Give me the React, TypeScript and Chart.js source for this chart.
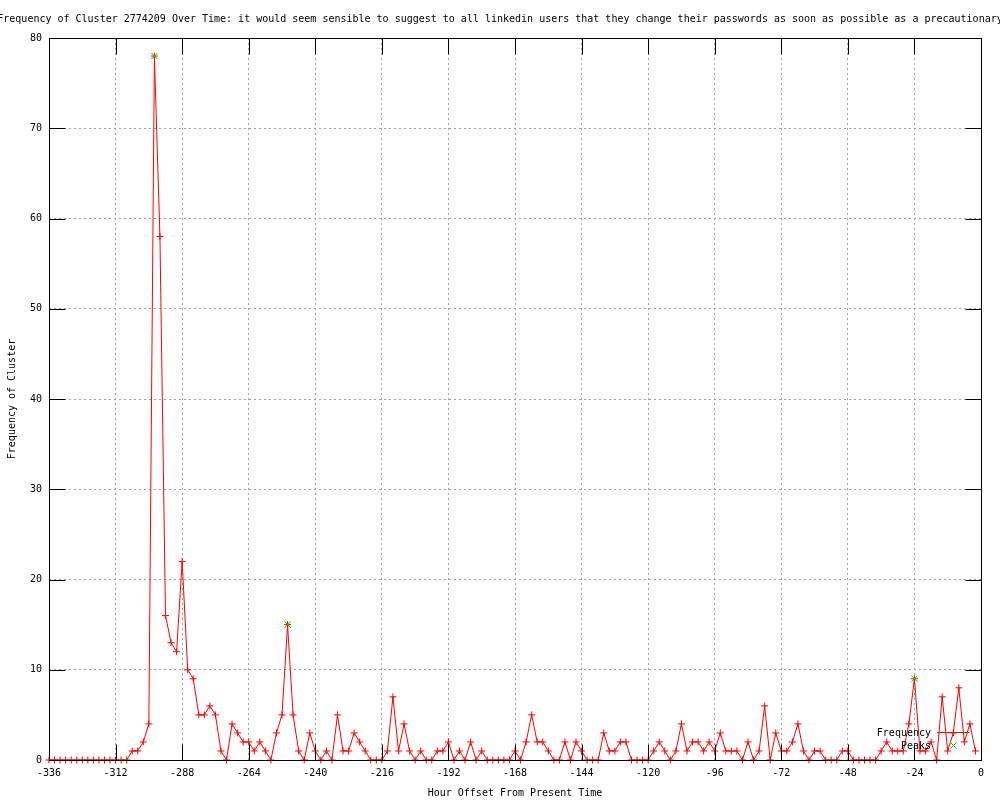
import React, { useEffect, useRef } from "react";
import { Chart, registerables } from "chart.js";

Chart.register(...registerables);

const TITLE =
  "Frequency of Cluster 2774209 Over Time: it would seem sensible to suggest to all linkedin users that they change their passwords as soon as possible as a precautionary";
const X_TITLE = "Hour Offset From Present Time";
const Y_TITLE = "Frequency of Cluster";
const LEGEND_LABELS = ["Frequency", "Peaks"];

const hours = [
  -336, -334, -332, -330, -328, -326, -324, -322, -320, -318, -316, -314, -312, -310, -308,
  -306, -304, -302, -300, -298, -296, -294, -292, -290,
  -288, -286, -284, -282, -280, -278, -276, -274, -272,
  -270, -268, -266, -264, -262, -260, -258, -256,
  -254, -252, -250, -248, -246, -244, -242, -240,
  -238, -236, -234, -232, -230, -228, -226, -224,
  -222, -220, -218, -216, -214, -212, -210, -208,
  -206, -204, -202, -200, -198, -196, -194, -192,
  -190, -188, -186, -184, -182, -180, -178, -176,
  -174, -172, -170, -168, -166, -164, -162, -160,
  -158, -156, -154, -152, -150, -148, -146, -144,
  -142, -140, -138, -136, -134, -132, -130, -128,
  -126, -124, -122, -120, -118, -116, -114, -112,
  -110, -108, -106, -104, -102, -100, -98, -96,
  -94, -92, -90, -88, -86, -84, -82, -80,
  -78, -76, -74, -72, -70, -68, -66, -64,
  -62, -60, -58, -56, -54, -52, -50, -48,
  -46, -44, -42, -40, -38, -36, -34, -32,
  -30, -28, -26, -24, -22, -20, -18, -16,
  -14, -12, -10, -8, -6, -4, -2,
];

const frequency = [
  0, 0, 0, 0, 0, 0, 0, 0, 0, 0, 0, 0, 0, 0, 0,
  1, 1, 2, 4, 78, 58, 16, 13, 12,
  22, 10, 9, 5, 5, 6, 5, 1, 0,
  4, 3, 2, 2, 1, 2, 1, 0,
  3, 5, 15, 5, 1, 0, 3, 1,
  0, 1, 0, 5, 1, 1, 3, 2,
  1, 0, 0, 0, 1, 7, 1, 4,
  1, 0, 1, 0, 0, 1, 1, 2,
  0, 1, 0, 2, 0, 1, 0, 0,
  0, 0, 0, 1, 0, 2, 5, 2,
  2, 1, 0, 0, 2, 0, 2, 1,
  0, 0, 0, 3, 1, 1, 2, 2,
  0, 0, 0, 0, 1, 2, 1, 0,
  1, 4, 1, 2, 2, 1, 2, 1,
  3, 1, 1, 1, 0, 2, 0, 1,
  6, 0, 3, 1, 1, 2, 4, 1,
  0, 1, 1, 0, 0, 0, 1, 1,
  0, 0, 0, 0, 0, 1, 2, 1,
  1, 1, 4, 9, 1, 1, 2, 0,
  7, 1, 3, 8, 2, 4, 1,
];

const peakHours = [-298, -250, -24];
const peakValues = [78, 15, 9];

const xTickValues = [-336, -312, -288, -264, -240, -216, -192, -168, -144, -120, -96, -72, -48, -24, 0];
const yTickValues = [0, 10, 20, 30, 40, 50, 60, 70, 80];

const FONT_FAMILY = '"DejaVu Sans Mono", "Liberation Mono", monospace';
const RED = "#ff0000";
const GREEN = "#00c000";

function drawCross(ctx: CanvasRenderingContext2D, x: number, y: number, r: number) {
  ctx.beginPath();
  ctx.moveTo(x - r, y);
  ctx.lineTo(x + r, y);
  ctx.moveTo(x, y - r);
  ctx.lineTo(x, y + r);
  ctx.stroke();
}

function drawX(ctx: CanvasRenderingContext2D, x: number, y: number, r: number) {
  ctx.beginPath();
  ctx.moveTo(x - r, y - r);
  ctx.lineTo(x + r, y + r);
  ctx.moveTo(x - r, y + r);
  ctx.lineTo(x + r, y - r);
  ctx.stroke();
}

const framePlugin = {
  id: "gnuplotFrame",
  afterDatasetsDraw(chart: any) {
    const { ctx, chartArea, scales } = chart;
    const xs = scales.x;
    const ys = scales.y;
    const L = Math.round(chartArea.left) + 0.5;
    const R = Math.round(chartArea.right) + 0.5;
    const T = Math.round(chartArea.top) + 0.5;
    const B = Math.round(chartArea.bottom) + 0.5;
    const TICK = 16;
    ctx.save();
    ctx.strokeStyle = "#000";
    ctx.lineWidth = 1;
    ctx.setLineDash([]);
    ctx.beginPath();
    for (const v of xTickValues) {
      const px = Math.round(xs.getPixelForValue(v)) + 0.5;
      ctx.moveTo(px, B);
      ctx.lineTo(px, B - TICK);
      ctx.moveTo(px, T);
      ctx.lineTo(px, T + TICK);
    }
    for (const v of yTickValues) {
      const py = Math.round(ys.getPixelForValue(v)) + 0.5;
      ctx.moveTo(L, py);
      ctx.lineTo(L + TICK, py);
      ctx.moveTo(R, py);
      ctx.lineTo(R - TICK, py);
    }
    ctx.stroke();
    ctx.strokeRect(L, T, R - L, B - T);

    // Legend
    ctx.font = `10px ${FONT_FAMILY}`;
    ctx.fillStyle = "#000";
    ctx.textAlign = "right";
    ctx.textBaseline = "middle";
    ctx.fillText(LEGEND_LABELS[0], 931, 733);
    ctx.fillText(LEGEND_LABELS[1], 931, 746);
    ctx.strokeStyle = RED;
    ctx.beginPath();
    ctx.moveTo(937, 732.5);
    ctx.lineTo(969, 732.5);
    ctx.stroke();
    drawCross(ctx, 953.5, 732.5, 3.5);
    ctx.strokeStyle = GREEN;
    drawX(ctx, 953.5, 745.5, 3);

    // Title
    ctx.fillStyle = "#000";
    ctx.textAlign = "center";
    ctx.fillText(TITLE, 500, 19);
    ctx.restore();
  },
};

export default function App() {
  const canvasRef = useRef<HTMLCanvasElement | null>(null);

  useEffect(() => {
    const canvas = canvasRef.current;
    if (!canvas) return;
    const font = { family: FONT_FAMILY, size: 10 };
    const chart = new Chart(canvas, {
      type: "line",
      data: {
        datasets: [
          {
            label: LEGEND_LABELS[0],
            data: hours.map((h, i) => ({ x: h, y: frequency[i] })),
            borderColor: RED,
            backgroundColor: RED,
            borderWidth: 1,
            pointStyle: "cross",
            pointRadius: 3.5,
            pointBorderWidth: 1,
            pointBorderColor: RED,
            pointBackgroundColor: RED,
            tension: 0,
            fill: false,
            clip: false,
            order: 1,
          } as any,
          {
            label: LEGEND_LABELS[1],
            data: peakHours.map((h, i) => ({ x: h, y: peakValues[i] })),
            showLine: false,
            borderColor: GREEN,
            backgroundColor: GREEN,
            pointStyle: "crossRot",
            pointRadius: 4.3,
            pointBorderWidth: 1,
            pointBorderColor: GREEN,
            clip: false,
            order: 0,
          } as any,
        ],
      },
      options: {
        animation: false,
        responsive: false,
        devicePixelRatio: 1,
        layout: { padding: { top: 38, right: 19, left: 0, bottom: 0 } },
        plugins: {
          legend: { display: false },
          tooltip: { enabled: false },
          title: { display: false },
        },
        scales: {
          x: {
            type: "linear",
            min: -336,
            max: 0,
            afterFit: (s: any) => {
              s.height = 40;
            },
            afterBuildTicks: (s: any) => {
              s.ticks = xTickValues.map((v) => ({ value: v }));
            },
            ticks: {
              autoSkip: false,
              maxRotation: 0,
              padding: 7,
              color: "#000",
              font,
            },
            grid: { color: "#a0a0a0", lineWidth: 1, drawTicks: false },
            border: { display: false, dash: [2, 3] },
            title: {
              display: true,
              text: X_TITLE,
              color: "#000",
              font,
              padding: { top: 0, bottom: 1 },
            },
          },
          y: {
            type: "linear",
            min: 0,
            max: 80,
            afterFit: (s: any) => {
              s.width = 49;
            },
            afterBuildTicks: (s: any) => {
              s.ticks = yTickValues.map((v) => ({ value: v }));
            },
            ticks: {
              padding: 7,
              color: "#000",
              font,
            },
            grid: { color: "#a0a0a0", lineWidth: 1, drawTicks: false },
            border: { display: false, dash: [2, 3] },
            title: {
              display: true,
              text: Y_TITLE,
              color: "#000",
              font,
              padding: { top: 6, bottom: 0 },
            },
          },
        },
      } as any,
      plugins: [framePlugin],
    });
    return () => chart.destroy();
  }, []);

  return (
    <div style={{ position: "absolute", left: 0, top: 0, width: 1000, height: 800, background: "#fff" }}>
      <canvas ref={canvasRef} width={1000} height={800} style={{ display: "block" }} />
    </div>
  );
}
